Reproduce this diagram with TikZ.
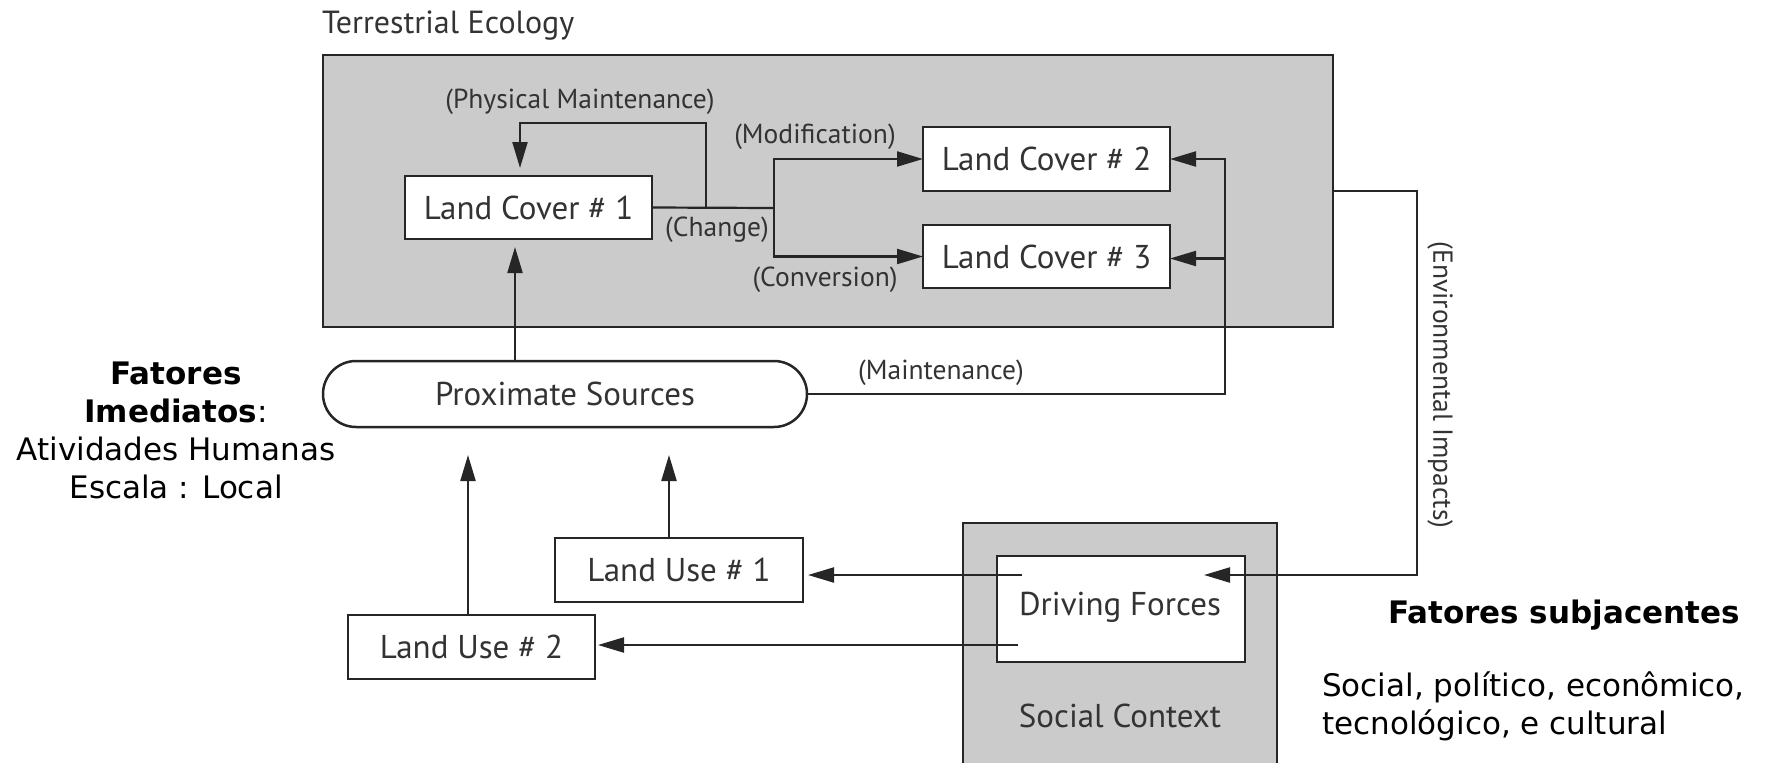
\documentclass[tikz,border=0pt]{standalone}
\usepackage{fontspec}
\setmainfont{DejaVu Sans}
\newfontfamily\dfont{PT Sans}
\usetikzlibrary{arrows.meta}
\definecolor{gfill}{HTML}{CBCBCB}
\definecolor{ln}{HTML}{262626}
\definecolor{txt}{HTML}{333333}
\begin{document}
\begin{tikzpicture}[x=1pt,y=-1pt,
  lbl/.style={font=\dfont\fontsize{33}{38}\selectfont, text=txt},
  plbl/.style={font=\dfont\fontsize{27.5}{32}\selectfont, text=txt, inner sep=0pt},
  box/.style={draw=ln, line width=2.5pt, fill=white, inner sep=0pt, outer sep=0pt, lbl},
  conn/.style={draw=ln, line width=2.2pt},
  arr/.style={conn, -{Triangle[length=26pt,width=15pt]}},
  pt/.style={font=\fontsize{31}{38}\selectfont, text=black, inner sep=0pt}
]
\useasboundingbox (0,0) rectangle (1772,763);

% Terrestrial Ecology container
\node[draw=ln, fill=gfill, line width=2.5pt, minimum width=1010pt, minimum height=272pt, inner sep=0pt, outer sep=0pt] (bigbox) at (828,191) {};
\node[lbl, font=\dfont\fontsize{32}{36}\selectfont, inner sep=0pt, anchor=base west] (title) at (322,33) {Terrestrial Ecology};

% Land covers
\node[box, minimum width=247pt, minimum height=63pt] (lc1) at (528.5,207.5) {Land Cover \# 1};
\node[box, minimum width=247pt, minimum height=64pt] (lc2) at (1046.5,159) {Land Cover \# 2};
\node[box, minimum width=247pt, minimum height=63pt] (lc3) at (1046.5,256.5) {Land Cover \# 3};

% Proximate sources
\node[box, rounded corners=33pt, minimum width=484pt, minimum height=66pt] (ps) at (565,394) {Proximate Sources};

% Land uses
\node[box, minimum width=248pt, minimum height=64pt] (lu1) at (679,570) {Land Use \# 1};
\node[box, minimum width=247pt, minimum height=64pt] (lu2) at (471.5,647) {Land Use \# 2};

% Social context
\node[fill=gfill, minimum width=314pt, minimum height=240pt, inner sep=0pt, outer sep=0pt] (sc) at (1120,643) {};
\draw[line width=2.5pt, draw=ln] (sc.south west) |- (sc.north east) -- (sc.south east);
\node[box, minimum width=248pt, minimum height=106pt] (df) at (1121,609) {};
\node[lbl, inner sep=0pt] (dflbl) at (1120,607) {Driving Forces};
\node[lbl, inner sep=0pt] (sclbl) at (1120,716) {Social Context};

% Labels
\node[plbl] (pmlbl) at (580,102) {(Physical Maintenance)};
\node[plbl] (chlbl) at (717,230) {(Change)};
\node[plbl] (modlbl) at (815,137) {(Modification)};
\node[plbl] (convlbl) at (825,280) {(Conversion)};
\node[plbl] (mlbl) at (941,373) {(Maintenance)};
\node[plbl, rotate=-90] (envlbl) at (1440,385) {(Environmental Impacts)};

% Coordinates
\coordinate (pmj) at (706,208);
\coordinate (pmtop) at (520,123);
\coordinate (chj) at (774,208);
\coordinate (mtop) at (1225,159);
\coordinate (eic) at (1417,575);

% Connectors inside Terrestrial Ecology
\draw[conn] (lc1.east) -- (chj);
\draw[arr, shorten >=8pt] (pmj) |- (pmtop) -- (pmtop |- lc1.north);
\draw[arr] (chj) |- (lc2.west);
\draw[arr] (chj) |- (lc3.west);

% Proximate sources -> Land cover 1
\draw[arr, shorten >=8pt] ([xshift=-50pt]ps.north) -- ([xshift=-13.5pt]lc1.south);

% Maintenance
\draw[arr] (ps.east) -| (mtop) -- (lc2.east);
\draw[arr] ([yshift=-2pt]lc3.east -| mtop) -- ([yshift=-2pt]lc3.east);

% Environmental impacts
\draw[arr] (bigbox.east) -| (eic) -- ([xshift=-41pt,yshift=-19pt]df.north east);

% Driving forces -> land uses
\draw[arr, shorten >=5pt] ([xshift=25pt,yshift=-19pt]df.north west) -- ([yshift=-5pt]lu1.east);
\draw[arr, shorten >=3pt] ([xshift=21pt,yshift=-89pt]df.north west) -- ([yshift=2pt]lu2.east);

% Land uses -> proximate sources
\draw[arr, shorten >=28pt] ([xshift=-3.5pt]lu2.north) -- ([xshift=-3.5pt]lu2.north |- ps.south);
\draw[arr, shorten >=28pt] ([xshift=-10pt]lu1.north) -- ([xshift=-10pt]lu1.north |- ps.south);

% Portuguese annotations
\node[pt, align=center] (imed) at (176,430) {\textbf{Fatores}\\\textbf{Imediatos}:\\Atividades Humanas\\Escala : Local};
\node[pt, font=\bfseries\fontsize{31}{38}\selectfont] (subj) at (1564,615) {Fatores subjacentes};
\node[pt, align=left, anchor=west] (subjtxt) at (1322,706.5) {Social, político, econômico,\\tecnológico, e cultural};
\end{tikzpicture}
\end{document}
